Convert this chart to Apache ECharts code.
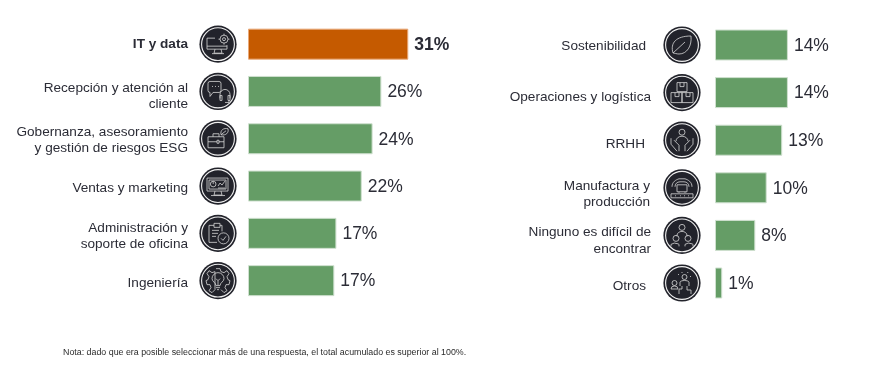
<!DOCTYPE html>
<html><head><meta charset="utf-8">
<style>html,body{margin:0;padding:0;background:#fff}#c{width:878px;height:366px}</style>
<script src="https://cdn.jsdelivr.net/npm/echarts@6/dist/echarts.min.js"></script>
</head><body><div id="c"></div>
<script>
const leftCategories = ['IT y data','Recepción y atención al\ncliente','Gobernanza, asesoramiento\ny gestión de riesgos ESG','Ventas y marketing','Administración y\nsoporte de oficina','Ingeniería'];
const leftValues = [31, 25.8, 24.1, 22, 17.1, 16.7];
const rightCategories = ['Sostenibilidad','Operaciones y logística','RRHH','Manufactura y\nproducción','Ninguno es difícil de\nencontrar','Otros'];
const rightValues = [14.1, 14.1, 13, 10, 7.8, 1.4];
const noteText = 'Nota: dado que era posible seleccionar más de una respuesta, el total acumulado es superior al 100%.';

const leftIcons = [
 'M-3,-6H-11V5H9V1M-11,2H9M-3,5L-4,9H4L3,5M-6,9.5H6M10,-5a4,4 0 1 1 -8,0a4,4 0 1 1 8,0M7.5,-5a1.5,1.5 0 1 1 -3,0a1.5,1.5 0 1 1 3,0M6,-10.5V-9M6,-1V0.5M0.5,-5H2M10,-5H11.5',
 'M-8,-10H1a2,2 0 0 1 2,2V-1a2,2 0 0 1 -2,2H-5L-8,5V1a2,2 0 0 1 -2,-2V-8a2,2 0 0 1 2,-2ZM-6,-5H-5M-3,-5H-2M0,-5H1M2,7V3a5,5 0 0 1 10,0V7M2,4H4V9H2ZM10,4H12V9H10ZM11,9V11H7',
 'M-10,-2H6V9H-10ZM-10,3H-1M1,3H6M-1,1.5H1V4.5H-1ZM-5,-2V-5H1V-2M3,-4C2,-9 6,-11 10,-10C11,-6 8,-3 3,-4ZM3,-4L8,-8',
 'M-11,-8H10V5H-11ZM-9,-6H8V3H-9ZM-3,5L-4,9H4L3,5M-7,9.5H7M-2,-2a2.8,2.8 0 1 1 -5.6,0a2.8,2.8 0 1 1 5.6,0M-4.8,-2V-4.8M0,0L2,-3L4,-1L7,-5M0,2H7',
 'M-9,-8H-4M2,-8H4V-2M-4,-10H2V-6H-4ZM-9,-8V9H-1M-6,-3H1M-6,0H0M-6,3H-2M11,5a5.5,5.5 0 1 1 -11,0a5.5,5.5 0 1 1 11,0M3,5L5,7L8,3',
 'M-2,-12H2L3,-9L6,-8L9,-10L11,-7L9,-4L10,-1L12,0L11,4L8,4L7,7L9,10L6,12L3,9M-3,9L-6,12L-9,10L-7,7L-8,4L-11,4L-12,0L-10,-1L-9,-4L-11,-7L-9,-10L-6,-8L-3,-9ZM-2,5C-2,2 -6,1 -6,-2a6,6 0 1 1 12,0C6,1 2,2 2,5ZM-2,7H2M-1,9H1M0,5V0L-2,-2M0,0L2,-2'
];
const rightIcons = [
 'M-9,8C-12,-2 -6,-9 9,-9C10,1 5,9 -3,9C-5,9 -8,8 -9,8ZM-9,8L3,-3',
 'M-5,-10H5V-1H-5ZM-2,-10V-6H2V-10M-11,0H0V10H-11ZM-7,0V4H-3V0M0,0H11V10H0ZM4,0V4H8V0',
 'M3,-8a3,3 0 1 1 -6,0a3,3 0 1 1 6,0M-6,1a6,5 0 0 1 12,0M-11,-2V4L-5,11M-8,0L-3,5V11M11,-2V4L5,11M8,0L3,5V11',
 'M-5,-3H5V4H-5ZM-3,4V5M3,4V5M-10,-1C-10,-6 -6,-8 -3,-9H3C6,-8 10,-6 10,-1M-7,-1C-7,-4 -5,-6 -2,-6H2C5,-6 7,-4 7,-1M-11,6H11V10H-11ZM-7,8H-6M-2,8H-1M2,8H3M6,8H7',
 'M3,-8a3,3 0 1 1 -6,0a3,3 0 1 1 6,0M-5,1V0a5,4 0 0 1 10,0V1M-3,3a3,3 0 1 1 -6,0a3,3 0 1 1 6,0M-11,11V9a5,3 0 0 1 8,0V11M9,3a3,3 0 1 1 -6,0a3,3 0 1 1 6,0M3,11V9a5,3 0 0 1 8,0V11',
 'M5,-6a2.5,2.5 0 1 1 -5,0a2.5,2.5 0 1 1 5,0M-2,3V-1C-1,-3 6,-3 7,-1V3M0,3V6H-3V11M5,3V7H9V11M-5,0a2.5,2.5 0 1 1 -5,0a2.5,2.5 0 1 1 5,0M-11,6a3.5,3 0 0 1 7,0ZM0,-11V-10M6,-11L5.5,-10M-4,-9L-3,-8M9,-7L8,-6'
];

const LABEL = '#2b2c36', DARK = '#22232b', LINE = '#d8d8d8';
const labelFont = 'Liberation Sans, Arial, sans-serif';
const LINE_H = 16.3;
// per-row nudges of the axis labels, in pixels
const leftNudgeY = [0.3, 4.5, 1.7, 1.7, 2.7, 3];
const rightNudgeY = [1.7, 4.7, 3.7, 6.5, 5.3, 3.7];
const rightNudgeX = [5, 0, 6, 1, 0, 5];

function iconSeries(axisIndex, icons, dx) {
  return {
    type: 'custom', xAxisIndex: axisIndex, yAxisIndex: axisIndex, silent: true, clip: false, z: 5,
    data: icons.map((_, i) => [0, i]),
    encode: { x: 0, y: 1 },
    renderItem(params, api) {
      const p = api.coord([0, api.value(1)]);
      return { type: 'group', x: p[0] + dx, y: p[1], children: [
        { type: 'circle', shape: { cx: 0, cy: 0, r: 18.6 }, style: { fill: DARK } },
        { type: 'circle', shape: { cx: 0, cy: 0, r: 16.4 }, style: { fill: DARK, stroke: '#f0f0f0', lineWidth: 1.1 } },
        { type: 'path', shape: { pathData: icons[params.dataIndex] }, style: { fill: 'none', stroke: LINE, lineWidth: 0.8 } }
      ]};
    }
  };
}
function barSeries(axisIndex, values, highlight) {
  return {
    type: 'bar', xAxisIndex: axisIndex, yAxisIndex: axisIndex, barWidth: 31, silent: true, z: 2,
    data: values.map((v, i) => i === highlight ? {
      value: v,
      itemStyle: { color: '#c55a00', borderColor: '#e9a878' },
      label: { fontWeight: 'bold' }
    } : v),
    itemStyle: { color: '#659d66', borderColor: '#cfe0cf', borderWidth: 1 },
    label: { show: true, position: 'right', distance: 6, offset: [0, 1], fontSize: 17.5, color: LABEL, fontFamily: labelFont,
             formatter: p => Math.round(p.value) + '%' }
  };
}
function yAxis(gridIndex, cats, margin, nudgeY, nudgeX, boldIndex) {
  return {
    type: 'category', gridIndex, inverse: true,
    data: cats.map((c, i) => ({
      value: c,
      textStyle: {
        verticalAlign: 'top',
        padding: [nudgeY[i] - c.split('\n').length * LINE_H / 2, nudgeX ? nudgeX[i] : 0, 0, 0],
        fontWeight: i === boldIndex ? 'bold' : 'normal'
      }
    })),
    axisLine: { show: false }, axisTick: { show: false },
    axisLabel: { margin, align: 'right', color: LABEL, fontFamily: labelFont, fontSize: 13.6, lineHeight: LINE_H, interval: 0 }
  };
}
function xAxis(gridIndex, max) {
  return { type: 'value', gridIndex, min: 0, max, show: false };
}

const chart = echarts.init(document.getElementById('c'), null, { renderer: 'canvas' });
chart.setOption({
  animation: false,
  backgroundColor: '#ffffff',
  title: { text: noteText, left: 58, top: 343, textStyle: { fontSize: 8.85, fontWeight: 'normal', color: '#2b2b2b', fontFamily: labelFont } },
  grid: [
    { left: 248, top: 20.5, width: 206.8, height: 283.8 },
    { left: 715, top: 21.2, width: 155.1, height: 285.6 }
  ],
  xAxis: [xAxis(0, 40), xAxis(1, 30)],
  yAxis: [yAxis(0, leftCategories, 60, leftNudgeY, null, 0), yAxis(1, rightCategories, 64, rightNudgeY, rightNudgeX, -1)],
  series: [
    barSeries(0, leftValues, 0),
    barSeries(1, rightValues, -1),
    iconSeries(0, leftIcons, -30),
    iconSeries(1, rightIcons, -33)
  ]
});
</script></body></html>
